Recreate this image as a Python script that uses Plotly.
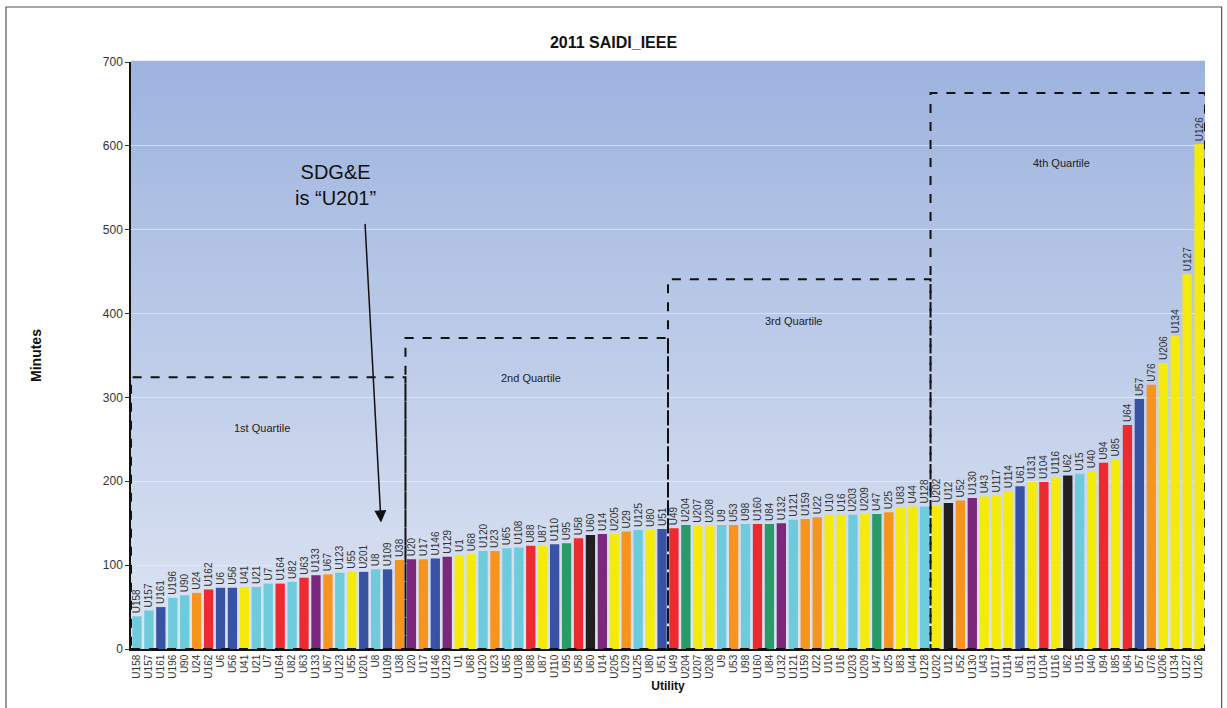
import plotly.graph_objects as go

categories = ["U158","U157","U161","U196","U90","U24","U162","U6","U56","U41","U21","U7","U164","U82","U63","U133","U67","U123","U55","U201","U8","U109","U38",
              "U20","U17","U146","U129","U1","U68","U120","U23","U65","U108","U88","U87","U110","U95","U58","U60","U14","U205","U29","U125","U80","U51",
              "U49","U204","U207","U208","U9","U53","U98","U160","U84","U132","U121","U159","U22","U10","U16","U203","U209","U47","U25","U83","U44","U128",
              "U202","U12","U52","U130","U43","U117","U114","U61","U131","U104","U116","U62","U15","U40","U94","U85","U64","U57","U76","U206","U134","U127","U126"]

values = [39, 46, 50, 61, 64, 67, 71, 73, 73, 74, 74, 78, 78, 80, 85, 88, 89, 91, 92, 92, 95, 95, 106,
          107, 107, 108, 110, 112, 113, 117, 117, 120, 121, 123, 123, 125, 126, 132, 136, 137, 137, 140, 142, 142, 143,
          144, 148, 147, 147, 148, 148, 149, 149, 149, 150, 154, 155, 157, 160, 160, 160, 161, 161, 163, 169, 170, 170,
          171, 174, 177, 180, 182, 183, 188, 194, 199, 199, 205, 207, 209, 212, 222, 226, 267, 298, 315, 341, 373, 447, 602]

groups = ["cyan","cyan","blue","cyan","cyan","orange","red","blue","blue","yellow","cyan","cyan","red","cyan","red","purple","orange","cyan","yellow","blue","cyan","blue","orange",
          "purple","orange","blue","purple","yellow","yellow","cyan","orange","cyan","cyan","red","yellow","blue","green","red","black","purple","yellow","orange","cyan","yellow","blue",
          "red","green","yellow","yellow","cyan","orange","cyan","red","green","purple","cyan","orange","orange","yellow","yellow","cyan","yellow","green","orange","yellow","yellow","cyan",
          "yellow","black","orange","purple","yellow","yellow","yellow","blue","yellow","red","yellow","black","cyan","yellow","red","yellow","red","blue","orange","yellow","yellow","yellow","yellow"]

quartile_names = ["1st Quartile", "2nd Quartile", "3rd Quartile", "4th Quartile"]
quartile_start = [0, 23, 45, 67]
quartile_end = [22, 44, 66, 89]
quartile_top = [324, 371, 441, 663]
quartile_label_y = [264, 323, 391, 580]

palette = {"cyan": "#6ecbdc", "blue": "#3953a4", "orange": "#f7941d", "red": "#ec2a2f",
           "yellow": "#f4ea0b", "purple": "#7c287d", "green": "#2a9a68", "black": "#231f20"}

fig = go.Figure()
fig.add_trace(go.Bar(
    x=categories, y=values,
    marker=dict(color=[palette[g] for g in groups], line=dict(width=0)),
    text=categories, textposition="outside", textangle=-90, constraintext="none",
    cliponaxis=False,
    textfont=dict(family="Liberation Sans, Arial", size=10, color="#333333"),
    hoverinfo="x+y",
))

shapes = []
# background gradient strips
n = 60
top_rgb = (158, 180, 223)
bot_rgb = (222, 229, 243)
for i in range(n):
    t = i / (n - 1)
    r = int(top_rgb[0] + (bot_rgb[0] - top_rgb[0]) * t)
    g = int(top_rgb[1] + (bot_rgb[1] - top_rgb[1]) * t)
    b = int(top_rgb[2] + (bot_rgb[2] - top_rgb[2]) * t)
    shapes.append(dict(type="rect", xref="x domain", yref="y domain",
                       x0=0, x1=1, y0=1 - (i + 1) / n, y1=1 - i / n + 0.002,
                       fillcolor=f"rgb({r},{g},{b})", line=dict(width=0), layer="below"))

# quartile boxes
for s, e, top in zip(quartile_start, quartile_end, quartile_top):
    shapes.append(dict(type="rect", xref="x", yref="y", x0=s - 0.5, x1=e + 0.5, y0=0, y1=top,
                       line=dict(color="#111111", width=2, dash="dash"), layer="above"))

# outer frame
shapes.append(dict(type="rect", xref="paper", yref="paper", x0=-0.1164, x1=1.0155, y0=-0.2, y1=1.0937,
                   line=dict(color="#555555", width=1.2), layer="above"))

annotations = []
for name, s, e, ly in zip(quartile_names, quartile_start, quartile_end, quartile_label_y):
    annotations.append(dict(x=(s + e) / 2 - 0.5, y=ly, xref="x", yref="y", text=name, showarrow=False,
                            font=dict(family="Liberation Sans, Arial", size=11, color="#222222")))

annotations.append(dict(x=16.6, y=553, xref="x", yref="y", text="SDG&E<br>is “U201”", showarrow=False,
                        font=dict(family="Liberation Sans, Arial", size=20, color="#111111")))
annotations.append(dict(x=20.45, y=151, xref="x", yref="y", ax=-16, ay=-300, axref="pixel", ayref="pixel",
                        text="", showarrow=True, arrowhead=2, arrowsize=1.6, arrowwidth=1.5, arrowcolor="#111111"))

fig.update_layout(
    width=1227, height=708,
    margin=dict(l=131, r=22, t=62, b=59),
    paper_bgcolor="white", plot_bgcolor="rgba(0,0,0,0)",
    title=dict(text="<b>2011 SAIDI_IEEE</b>", x=0.5, xanchor="center", y=0.94, yanchor="middle",
               font=dict(family="Liberation Sans, Arial", size=16, color="#111111")),
    showlegend=False, bargap=0.22,
    shapes=shapes, annotations=annotations,
    xaxis=dict(type="category", tickangle=-90, showgrid=False, ticks="", showline=True, linecolor="#111111", linewidth=1.5,
               tickmode="array", tickvals=categories, ticktext=categories,
               tickfont=dict(family="Liberation Sans, Arial", size=10, color="#333333"),
               title=dict(text="<b>Utility</b>", standoff=4, font=dict(family="Liberation Sans, Arial", size=12, color="#111111")),
               range=[-0.5, len(categories) - 0.5]),
    yaxis=dict(range=[0, 700], dtick=100, showgrid=True, gridcolor="rgba(232,236,246,0.7)", gridwidth=1,
               ticks="outside", ticklen=4, tickcolor="#333333", showline=True, linecolor="#111111", linewidth=1.5,
               zeroline=False,
               tickfont=dict(family="Liberation Sans, Arial", size=12, color="#333333"),
               title=dict(text="<b>Minutes</b>", standoff=58, font=dict(family="Liberation Sans, Arial", size=14, color="#111111"))),
)

fig.write_html("out.html")
